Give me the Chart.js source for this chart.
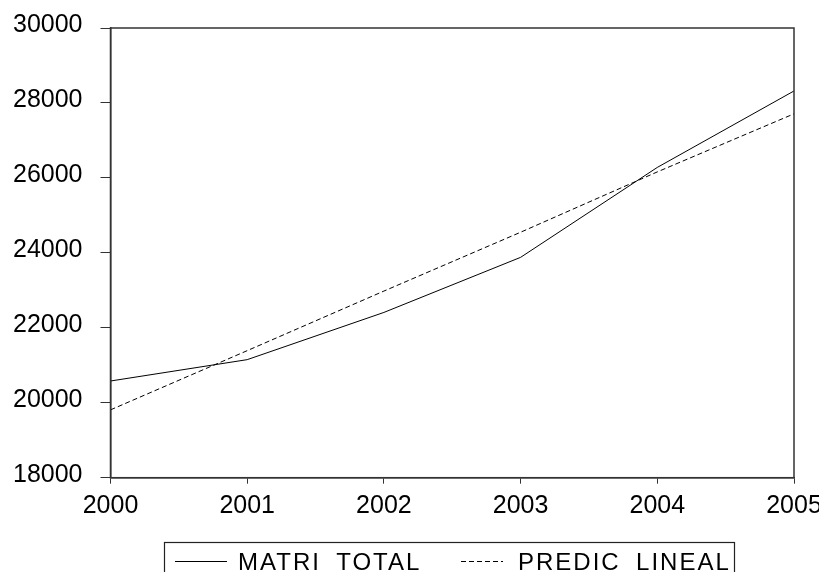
<!DOCTYPE html>
<html>
<head>
<meta charset="utf-8">
<script src="https://cdn.jsdelivr.net/npm/chart.js@4"></script>
<style>
html,body{margin:0;padding:0;background:#fff;}
#wrap{width:819px;height:572px;position:relative;}
</style>
</head>
<body>
<div id="wrap"><canvas id="c" width="819" height="572"></canvas></div>
<script>
const years = ['2000','2001','2002','2003','2004','2005'];
const matriTotal = [20580, 21150, 22410, 23880, 26280, 28320];
const predicLineal = [19810, 21390, 22980, 24550, 26160, 27710];
const yTicks = [18000, 20000, 22000, 24000, 26000, 28000, 30000];
const seriesNames = ['MATRI_TOTAL', 'PREDIC_LINEAL'];

const FONT = 'Liberation Sans, Arial, sans-serif';

const frame = {
  id: 'frame',
  afterDraw(chart) {
    const {ctx, chartArea: a} = chart;
    ctx.save();
    ctx.strokeStyle = '#333';
    ctx.lineWidth = 1.5;
    ctx.strokeRect(a.left, a.top, a.right - a.left, a.bottom - a.top);
    ctx.restore();
  }
};

const boxLegend = {
  id: 'boxLegend',
  afterDraw(chart) {
    const ctx = chart.ctx;
    ctx.save();
    ctx.strokeStyle = '#222';
    ctx.lineWidth = 1.2;
    ctx.strokeRect(164.5, 542.5, 570, 40);
    ctx.font = '24px ' + FONT;
    ctx.fillStyle = '#000';
    ctx.textBaseline = 'alphabetic';
    try { ctx.letterSpacing = '2px'; } catch (e) {}
    const items = [
      {x0: 175, x1: 227, tx: 238, ds: chart.data.datasets[0]},
      {x0: 461, x1: 503, tx: 518, ds: chart.data.datasets[1]}
    ];
    items.forEach(it => {
      ctx.beginPath();
      ctx.setLineDash(it.ds.borderDash || []);
      ctx.lineWidth = 1;
      ctx.strokeStyle = '#000';
      ctx.moveTo(it.x0, 561.5);
      ctx.lineTo(it.x1, 561.5);
      ctx.stroke();
      ctx.setLineDash([]);
      ctx.fillText(it.ds.label, it.tx, 570);
    });
    ctx.restore();
  }
};

new Chart(document.getElementById('c'), {
  type: 'line',
  data: {
    labels: years,
    datasets: [
      {label: seriesNames[0], data: matriTotal, borderColor: '#000', borderWidth: 1, pointRadius: 0, tension: 0, fill: false},
      {label: seriesNames[1], data: predicLineal, borderColor: '#000', borderWidth: 1, borderDash: [5, 3], pointRadius: 0, tension: 0, fill: false}
    ]
  },
  options: {
    responsive: false,
    animation: false,
    devicePixelRatio: 1,
    layout: {padding: {left: 0, right: 25, top: 28, bottom: 0}},
    plugins: {legend: {display: false}, tooltip: {enabled: false}},
    scales: {
      x: {
        offset: false,
        grid: {drawOnChartArea: false, tickLength: 6, color: '#333', lineWidth: 1},
        border: {color: '#333', width: 1.5},
        ticks: {color: '#000', font: {family: FONT, size: 25}, padding: 7, maxRotation: 0, autoSkip: false},
        afterFit(s) { s.height = 94.3; s.paddingLeft = 0; s.paddingRight = 0; }
      },
      y: {
        min: 18000, max: 30000,
        afterBuildTicks(s) { s.ticks = yTicks.map(v => ({value: v})); },
        grid: {drawOnChartArea: false, tickLength: 10, color: '#333', lineWidth: 1},
        border: {color: '#333', width: 1.5},
        ticks: {color: '#000', font: {family: FONT, size: 25}, padding: 18, labelOffset: -3, callback: v => String(v)},
        afterFit(s) { s.width = 110.5; s.paddingTop = 0; s.paddingBottom = 0; }
      }
    }
  },
  plugins: [frame, boxLegend]
});
</script>
</body>
</html>
